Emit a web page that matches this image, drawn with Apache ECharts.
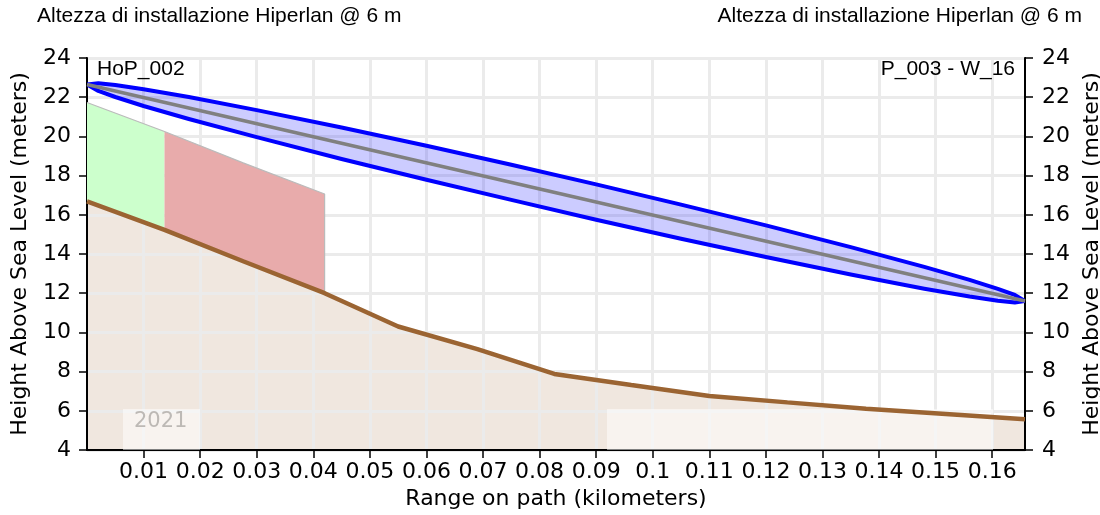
<!DOCTYPE html>
<html><head><meta charset="utf-8">
<script src="https://cdn.jsdelivr.net/npm/echarts@6/dist/echarts.min.js"></script>
<style>html,body{margin:0;padding:0;background:#fff}#c{width:1100px;height:515px}</style>
</head><body><div id="c"></div>
<script>
// ---- data ----
const titleText = 'Altezza di installazione Hiperlan @ 6 m';
const siteA = 'HoP_002';
const siteB = 'P_003 - W_16';
const yearText = '2021';
const xName = 'Range on path (kilometers)';
const yName = 'Height Above Sea Level (meters)';

const xMin = 0, xMax = 0.1658;
const xTickValues = [0.01,0.02,0.03,0.04,0.05,0.06,0.07,0.08,0.09,0.10,0.11,0.12,0.13,0.14,0.15,0.16];
const xTickLabels = ['0.01','0.02','0.03','0.04','0.05','0.06','0.07','0.08','0.09','0.1','0.11','0.12','0.13','0.14','0.15','0.16'];
const yMin = 4, yMax = 24, yStep = 2;

// terrain profile
const terrainX = [0, 0.0137, 0.0276, 0.0420, 0.0550, 0.0690, 0.0826, 0.0962, 0.1100, 0.1238, 0.1377, 0.1518, 0.1658];
const terrainY = [16.68, 15.23, 13.63, 12.00, 10.30, 9.15, 7.88, 7.32, 6.76, 6.43, 6.10, 5.84, 5.57];

// obstacles (clutter) above terrain
const obsX    = [0, 0.0137, 0.0276, 0.0420];
const obsTop  = [21.73, 20.25, 18.65, 17.06];
const obsBase = [16.68, 15.23, 13.63, 12.00];
const obsClass = ['clear', 'blocked', 'blocked'];

// line of sight between antennas
const linkX = [0, 0.1658];
const linkY = [22.65, 11.60];

// first Fresnel zone boundaries
const fresX  = [0, 0.002, 0.005, 0.01, 0.018, 0.03, 0.045, 0.06, 0.075, 0.09, 0.105, 0.12, 0.135, 0.148, 0.156, 0.161, 0.164, 0.1658];
const fresUp = [22.65, 22.71, 22.62, 22.41, 22.01, 21.34, 20.45, 19.52, 18.55, 17.55, 16.52, 15.46, 14.35, 13.34, 12.68, 12.22, 11.91, 11.60];
const fresLo = [22.65, 22.32, 22.01, 21.55, 20.89, 19.96, 18.85, 17.79, 16.76, 15.75, 14.78, 13.85, 12.95, 12.23, 11.83, 11.62, 11.53, 11.60];

// ---- chart ----
const tickFont = 'DejaVu Sans';
const obsFill = {clear: '#ccffcc', blocked: '#e8abab'};

// group consecutive obstacle segments of the same class into runs [startIdx, endIdx]
const obsRuns = [];
obsClass.forEach((c, i) => {
  const last = obsRuns[obsRuns.length - 1];
  if (last && last.cls === c) last.end = i + 1; else obsRuns.push({cls: c, start: i, end: i + 1});
});

const chart = echarts.init(document.getElementById('c'), null, {renderer: 'canvas'});

const yAxisBase = (pos, gap, margin) => ({
  type: 'value', position: pos, min: yMin, max: yMax, interval: yStep, z: 2,
  name: yName, nameLocation: 'middle', nameGap: gap,
  nameTextStyle: {fontFamily: tickFont, fontSize: 22, color: '#000'},
  axisLine: {show: true, lineStyle: {color: '#000', width: 2}},
  axisTick: {show: true, length: 8, lineStyle: {color: '#000', width: 1.5}},
  axisLabel: {fontFamily: tickFont, fontSize: 22, color: '#000', margin: margin},
  splitLine: {show: pos === 'left', lineStyle: {color: '#ebebeb', width: 3}}
});

const option = {
  animation: false,
  backgroundColor: '#fff',
  grid: {left: 87, right: 75, top: 58, bottom: 65, show: true, borderColor: '#000', borderWidth: 2,
         backgroundColor: 'transparent', containLabel: false, outerBoundsMode: 'none'},
  xAxis: {
    type: 'value', min: xMin, max: xMax, z: 2,
    name: xName, nameLocation: 'middle', nameGap: 33,
    nameTextStyle: {fontFamily: tickFont, fontSize: 22, color: '#000'},
    axisLine: {show: true, lineStyle: {color: '#000', width: 2}},
    axisTick: {show: true, length: 8, lineStyle: {color: '#000', width: 1.5}, customValues: xTickValues},
    axisLabel: {fontFamily: tickFont, fontSize: 22, color: '#000', margin: 11, customValues: xTickValues,
      formatter: v => { const i = xTickValues.findIndex(t => Math.abs(t - v) < 1e-9); return i >= 0 ? xTickLabels[i] : ''; }},
    splitLine: {show: true, lineStyle: {color: '#ebebeb', width: 3}},
    interval: 0.01
  },
  yAxis: [yAxisBase('left', 56, 16), yAxisBase('right', 49, 17)],
  graphic: [
    {type: 'text', left: 37, top: 6, z: 10, style: {text: titleText, font: '21px "Liberation Sans"', fill: '#000'}},
    {type: 'text', right: 18, top: 6, z: 10, style: {text: titleText, font: '21px "Liberation Sans"', fill: '#000'}},
    {type: 'text', left: 97, top: 59, z: 10, style: {text: siteA, font: '21px "Liberation Sans"', fill: '#000'}},
    {type: 'text', right: 85, top: 59, z: 10, style: {text: siteB, font: '21px "Liberation Sans"', fill: '#000'}},
    {type: 'rect', shape: {x: 123, y: 409, width: 77, height: 41}, z: 3, style: {fill: 'rgba(255,255,255,0.5)'}},
    {type: 'rect', shape: {x: 607, y: 409, width: 386, height: 41}, z: 3, style: {fill: 'rgba(255,255,255,0.5)'}},
    {type: 'text', left: 134, top: 411, z: 10, style: {text: yearText, font: '21px "DejaVu Sans"', fill: '#bdb9b5'}}
  ],
  series: [
    {
      type: 'line', z: 1, silent: true, showSymbol: false,
      data: terrainX.map((x, i) => [x, terrainY[i]]),
      lineStyle: {width: 0},
      areaStyle: {color: 'rgba(165,112,65,0.24)', origin: 'start'}
    },
    {
      type: 'custom', z: 3, silent: true, clip: true,
      data: obsRuns.map(r => [obsX[r.start], obsTop[r.start]]),
      renderItem: (params, api) => {
        const r = obsRuns[params.dataIndex];
        const pts = [];
        for (let i = r.start; i <= r.end; i++) pts.push(api.coord([obsX[i], obsTop[i]]));
        for (let i = r.end; i >= r.start; i--) pts.push(api.coord([obsX[i], obsBase[i]]));
        return {type: 'polygon', shape: {points: pts}, style: {fill: obsFill[r.cls], stroke: null}};
      }
    },
    {
      type: 'line', z: 3.5, silent: true, showSymbol: false,
      data: obsX.map((x, i) => [x, obsTop[i]]).concat([[obsX[obsX.length - 1], obsBase[obsBase.length - 1]]]),
      lineStyle: {color: '#bbbbbb', width: 1.2}
    },
    {
      type: 'custom', z: 4, silent: true, clip: true,
      data: [[fresX[0], fresUp[0]]],
      renderItem: (params, api) => {
        const pts = [];
        for (let i = 0; i < fresX.length; i++) pts.push(api.coord([fresX[i], fresUp[i]]));
        for (let i = fresX.length - 1; i >= 0; i--) pts.push(api.coord([fresX[i], fresLo[i]]));
        return {type: 'polygon', shape: {points: pts}, style: {fill: 'rgba(0,0,255,0.2)', stroke: '#0000ff', lineWidth: 4, lineJoin: 'round'}};
      }
    },
    {
      type: 'line', z: 5, silent: true, showSymbol: false,
      data: linkX.map((x, i) => [x, linkY[i]]),
      lineStyle: {color: '#808080', width: 3.5}
    },
    {
      type: 'line', z: 6, silent: true, showSymbol: false,
      data: terrainX.map((x, i) => [x, terrainY[i]]),
      lineStyle: {color: '#9b6432', width: 4.5}
    }
  ]
};
chart.setOption(option);
</script>
</body></html>
